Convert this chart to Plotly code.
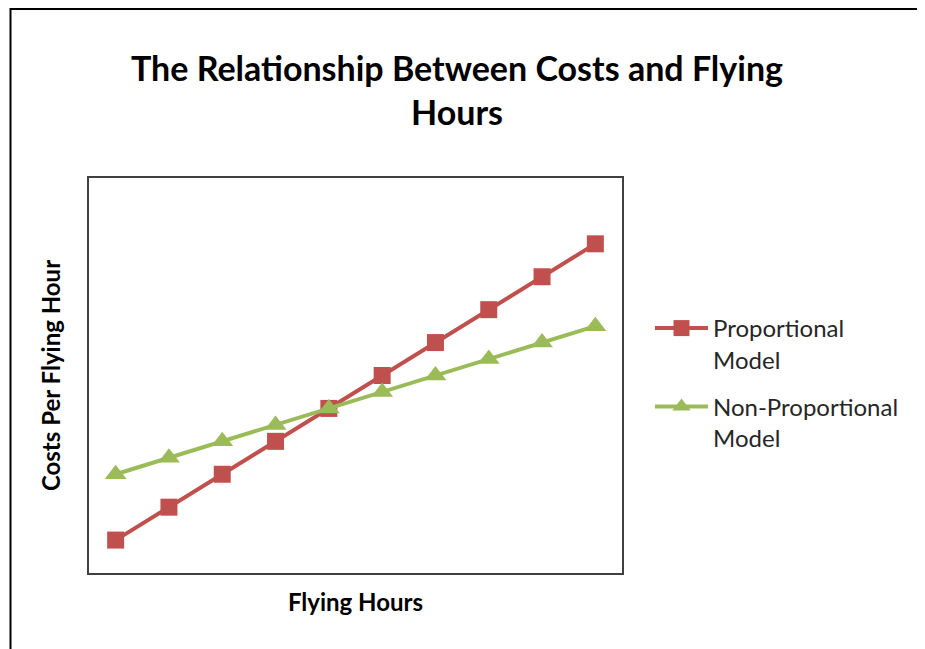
import plotly.graph_objects as go

flying_hours = [1, 2, 3, 4, 5, 6, 7, 8, 9, 10]
proportional = [1, 2, 3, 4, 5, 6, 7, 8, 9, 10]
non_proportional = [3, 3.5, 4, 4.5, 5, 5.5, 6, 6.5, 7, 7.5]

title_text = "The Relationship Between Costs and Flying<br>Hours"
x_title = "Flying Hours"
y_title = "Costs Per Flying Hour"

RED = "#C0504D"
GREEN = "#9BBB59"
FONT = "Lato"

fig = go.Figure()
fig.add_trace(go.Scatter(
    x=flying_hours, y=proportional, mode="lines+markers",
    name="Proportional<br>Model", legendgroup="a",
    line=dict(color=RED, width=4),
    marker=dict(symbol="square", size=17, color=RED),
))
fig.add_trace(go.Scatter(
    x=flying_hours, y=non_proportional, mode="lines+markers",
    name="Non-Proportional<br>Model", legendgroup="b",
    line=dict(color=GREEN, width=4),
    marker=dict(symbol="triangle-up", size=19, color=GREEN),
))

# page body adds an 8px offset; layout coordinates below compensate for it
OFF = 8
W, H = 925, 649
L, R, T, B = 89 - OFF, 622 - OFF, 178 - OFF, 573 - OFF


def px_x(px):
    return (px - OFF - L) / (R - L)


def px_y(py):
    return (B - (py - OFF)) / (B - T)


fig.update_layout(
    width=W, height=H,
    margin=dict(l=L, r=W - R, t=T, b=H - B, autoexpand=False),
    paper_bgcolor="white", plot_bgcolor="white",
    font=dict(family=FONT, color="#000000"),
    title=dict(text=title_text, x=(457 - OFF) / W, xanchor="center", xref="container",
               y=1 - 73 / H, yanchor="top", yref="container",
               font=dict(family=FONT, size=34, color="#000000", weight="bold")),
    xaxis=dict(range=[0.5, 10.5], showticklabels=False, ticks="", showgrid=False,
               zeroline=False, showline=True, mirror=True, linecolor="#404040", linewidth=2,
               title=dict(text=x_title, standoff=20,
                          font=dict(family=FONT, size=24, color="#000000", weight="bold"))),
    yaxis=dict(range=[0, 12], showticklabels=False, ticks="", showgrid=False,
               zeroline=False, showline=True, mirror=True, linecolor="#404040", linewidth=2,
               title=dict(text=y_title, standoff=20,
                          font=dict(family=FONT, size=24, color="#000000", weight="bold"))),
    legend=dict(x=px_x(650), xanchor="left", xref="paper",
                y=px_y(306), yanchor="top", yref="paper",
                valign="top", traceorder="grouped", tracegroupgap=13, itemwidth=53,
                font=dict(family=FONT, size=24, color="#262626"),
                bgcolor="rgba(0,0,0,0)"),
    shapes=[dict(type="rect", xref="paper", yref="paper",
                 x0=px_x(10.5), x1=px_x(960),
                 y0=px_y(700), y1=px_y(9),
                 line=dict(color="black", width=2), fillcolor="rgba(0,0,0,0)", layer="below")],
)

fig.write_html("out.html")
